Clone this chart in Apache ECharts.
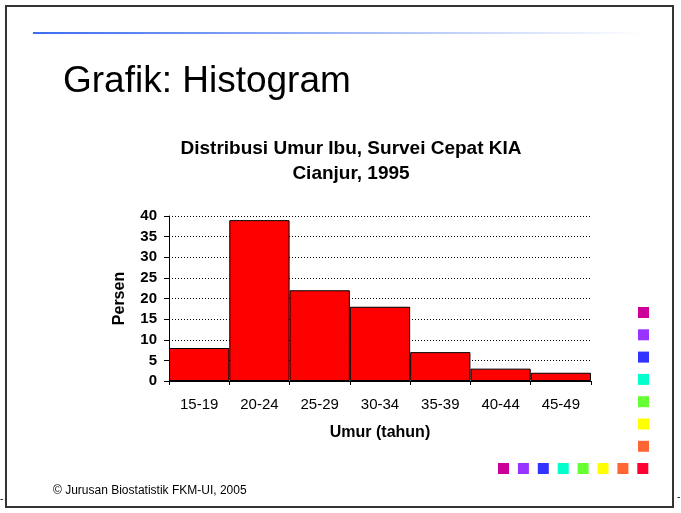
<!DOCTYPE html>
<html>
<head>
<meta charset="utf-8">
<title>Grafik: Histogram</title>
<script src="https://cdn.jsdelivr.net/npm/echarts@6/dist/echarts.min.js"></script>
<style>
  html, body { margin: 0; padding: 0; background: #fff; }
  #chart { width: 681px; height: 513px; }
</style>
</head>
<body>
<div id="chart"></div>
<script>
// age groups and share of mothers (%)
const ageGroups = ['15-19', '20-24', '25-29', '30-34', '35-39', '40-44', '45-49']
const persen = [8, 39, 22, 18, 7, 3, 2]
const yTicks = { min: 0, max: 40, interval: 5 }

// decorative squares on the slide
const colColors = ['#CC0099', '#9933FF', '#3333FF', '#00FFCC', '#66FF33', '#FFFF00', '#FF6633']
const rowColors = ['#CC0099', '#9933FF', '#3333FF', '#00FFCC', '#66FF33', '#FFFF00', '#FF6633', '#FF0033']

const font = '"Liberation Sans", Arial, sans-serif'

const squares = []
colColors.forEach((c, i) => {
  squares.push({ type: 'rect', shape: { x: 638, y: 307 + i * 22.3, width: 11, height: 11 }, style: { fill: c } })
})
rowColors.forEach((c, i) => {
  squares.push({ type: 'rect', shape: { x: 498 + i * 19.9, y: 463, width: 11, height: 11 }, style: { fill: c } })
})

const myChart = echarts.init(document.getElementById('chart'))
const option = {
  backgroundColor: '#fff',
  animation: false,
  textStyle: { fontFamily: font },
  title: {
    text: 'Distribusi Umur Ibu, Survei Cepat KIA\nCianjur, 1995',
    left: 346,
    top: 131,
    textAlign: 'center',
    textStyle: { fontSize: 19, fontWeight: 'bold', color: '#000', lineHeight: 25, fontFamily: font }
  },
  grid: { left: 169, right: 90, top: 216, bottom: 132 },
  xAxis: {
    type: 'category',
    data: ageGroups,
    boundaryGap: true,
    name: 'Umur (tahun)',
    nameLocation: 'middle',
    nameGap: 44,
    nameTextStyle: { fontSize: 16, fontWeight: 'bold', color: '#000' },
    axisLine: { lineStyle: { color: '#000', width: 1 } },
    axisTick: { show: true, interval: 0, length: 4, lineStyle: { color: '#000' } },
    axisLabel: { interval: 0, fontSize: 15, color: '#000', margin: 16 }
  },
  yAxis: {
    type: 'value',
    min: yTicks.min,
    max: yTicks.max,
    interval: yTicks.interval,
    name: 'Persen',
    nameLocation: 'middle',
    nameRotate: 90,
    nameGap: 41,
    nameTextStyle: { fontSize: 16, fontWeight: 'bold', color: '#000' },
    axisLine: { show: true, lineStyle: { color: '#000', width: 1 } },
    axisTick: { show: true, length: 5, lineStyle: { color: '#000' } },
    axisLabel: { fontSize: 15, fontWeight: 'bold', color: '#000', margin: 12 },
    splitLine: { show: true, lineStyle: { color: '#000', type: [1, 2], width: 1 } }
  },
  series: [
    {
      name: 'Persen',
      type: 'bar',
      data: persen,
      barCategoryGap: '0%',
      itemStyle: { color: '#FF0000', borderColor: '#000', borderWidth: 1 }
    }
  ],
  graphic: [
    // slide frame
    { type: 'rect', shape: { x: 6, y: 6, width: 667, height: 501 }, style: { fill: 'none', stroke: '#333', lineWidth: 2 }, z: 0 },
    // top rule fading out
    {
      type: 'rect',
      shape: { x: 33, y: 32, width: 612, height: 2 },
      style: {
        fill: new echarts.graphic.LinearGradient(0, 0, 1, 0, [
          { offset: 0, color: '#3D6EF2' },
          { offset: 0.5, color: '#9DB6F7' },
          { offset: 1, color: '#FFFFFF' }
        ])
      }
    },
    { type: 'text', left: 63, top: 63, style: { text: 'Grafik: Histogram', font: '37px ' + font, fill: '#000' } },
    { type: 'text', left: 53, top: 485, style: { text: '© Jurusan Biostatistik FKM-UI, 2005', font: '12px ' + font, fill: '#000' } },
    { type: 'text', left: 0, top: 494, style: { text: '-', font: '10px ' + font, fill: '#000' } },
    { type: 'text', left: 677, top: 492, style: { text: '-', font: '10px ' + font, fill: '#000' } }
  ].concat(squares)
}
myChart.setOption(option)
</script>
</body>
</html>
